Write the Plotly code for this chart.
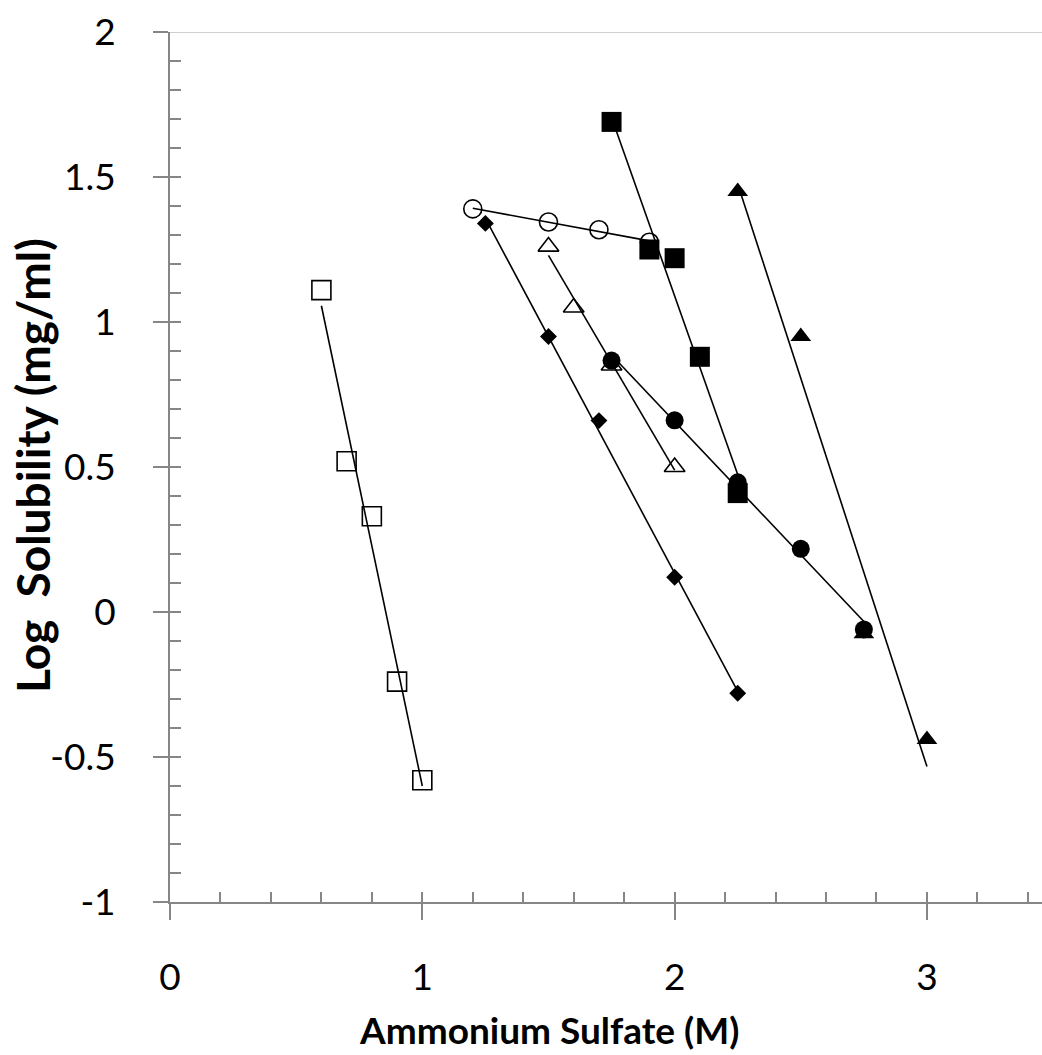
import numpy as np
import plotly.graph_objects as go

# Ammonium sulfate concentration (M) and log solubility (mg/ml) for each protein series
open_square_x = [0.6, 0.7, 0.8, 0.9, 1.0]
open_square_y = [1.11, 0.52, 0.33, -0.24, -0.58]

diamond_x = [1.25, 1.5, 1.7, 2.0, 2.25]
diamond_y = [1.34, 0.95, 0.66, 0.12, -0.28]

open_circle_x = [1.2, 1.5, 1.7, 1.9]
open_circle_y = [1.39, 1.345, 1.318, 1.275]

open_triangle_x = [1.5, 1.6, 1.75, 2.0]
open_triangle_y = [1.26, 1.05, 0.85, 0.50]

filled_circle_x = [1.75, 2.0, 2.25, 2.5, 2.75]
filled_circle_y = [0.867, 0.661, 0.447, 0.218, -0.06]

filled_square_x = [1.75, 1.9, 2.0, 2.1, 2.25]
filled_square_y = [1.69, 1.25, 1.22, 0.88, 0.41]

filled_triangle_x = [2.25, 2.5, 2.75, 3.0]
filled_triangle_y = [1.45, 0.95, -0.075, -0.44]

x_tick_labels = ["0", "1", "2", "3"]
y_tick_labels = ["-1", "-0.5", "0", "0.5", "1", "1.5", "2"]

series = [
    (open_square_x, open_square_y, "square-open", 19, 1.6),
    (diamond_x, diamond_y, "diamond", 13, 0),
    (open_circle_x, open_circle_y, "circle-open", 18, 1.6),
    (open_triangle_x, open_triangle_y, "triangle-up-open", 18, 1.6),
    (filled_circle_x, filled_circle_y, "circle", 18, 0),
    (filled_square_x, filled_square_y, "square", 20, 0),
    (filled_triangle_x, filled_triangle_y, "triangle-up", 18, 0),
]

fig = go.Figure()

# Linear trendline for every series, spanning its own x range
for xs, ys, _, _, _ in series:
    slope, intercept = np.polyfit(xs, ys, 1)
    xe = np.array([min(xs), max(xs)])
    fig.add_trace(go.Scatter(
        x=xe, y=slope * xe + intercept, mode="lines",
        line=dict(color="black", width=1.6),
        showlegend=False, hoverinfo="skip",
    ))

# Data markers
for xs, ys, sym, size, lw in series:
    fig.add_trace(go.Scatter(
        x=xs, y=ys, mode="markers",
        marker=dict(symbol=sym, size=size, color="black",
                    line=dict(color="black", width=lw)),
        showlegend=False,
    ))

# Empty trace that anchors the overlay axes carrying the inside tick marks
fig.add_trace(go.Scatter(x=[], y=[], xaxis="x2", yaxis="y2", showlegend=False))

axis_grey = "#868686"
tick_font = dict(family="Lato, Open Sans, sans-serif", size=37, color="black")
x_title_font = dict(family="Lato, Open Sans, sans-serif", size=37, color="black")
y_title_font = dict(family="Lato, Open Sans, sans-serif", size=46, color="black")

x_range = [0, 3.456]
y_range = [-1, 2]

fig.update_layout(
    width=1042, height=1055,
    margin=dict(l=170, r=0, t=32, b=153),
    paper_bgcolor="white", plot_bgcolor="white",
    xaxis=dict(
        range=x_range, showgrid=False, zeroline=False,
        showline=True, linecolor=axis_grey, linewidth=2,
        ticks="outside", ticklen=16, tickwidth=1.5, tickcolor=axis_grey,
        tickmode="array", tickvals=[0, 1, 2, 3], ticktext=x_tick_labels,
        tickfont=tick_font, ticklabelstandoff=26,
    ),
    yaxis=dict(
        range=y_range, showgrid=False, zeroline=False,
        showline=True, linecolor=axis_grey, linewidth=2,
        ticks="outside", ticklen=15, tickwidth=1.5, tickcolor=axis_grey,
        tickmode="array", tickvals=[-1, -0.5, 0, 0.5, 1, 1.5, 2],
        ticktext=y_tick_labels,
        tickfont=tick_font, ticklabelstandoff=30,
    ),
    xaxis2=dict(
        range=x_range, overlaying="x", anchor="y2",
        showgrid=False, zeroline=False, showline=False,
        ticks="inside", ticklen=10, tickwidth=1.5, tickcolor=axis_grey,
        tick0=0, dtick=0.2, showticklabels=False,
    ),
    yaxis2=dict(
        range=y_range, overlaying="y", anchor="x2",
        showgrid=False, zeroline=False, showline=False,
        ticks="inside", ticklen=11, tickwidth=1.5, tickcolor=axis_grey,
        tick0=-1, dtick=0.1, showticklabels=False,
    ),
    shapes=[dict(type="line", xref="paper", yref="y", x0=0, x1=1, y0=2, y1=2,
                 line=dict(color="#bfbfbf", width=1.5), layer="below")],
    annotations=[
        dict(text="<b>Ammonium Sulfate (M)</b>", xref="paper", yref="paper",
             x=(549 - 170) / 872, y=-(1054 - 902) / 870,
             xanchor="center", yanchor="bottom", showarrow=False, font=x_title_font),
        dict(text="<b>Log  Solubility (mg/ml)</b>", xref="paper", yref="paper",
             x=-(170 - 32) / 872, y=(902 - 466) / 870, textangle=-90,
             xanchor="center", yanchor="middle", showarrow=False, font=y_title_font),
    ],
)

fig.write_html("out.html")
